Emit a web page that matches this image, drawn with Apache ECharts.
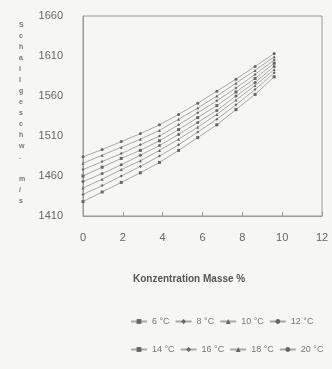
<!DOCTYPE html>
<html>
<head>
<meta charset="utf-8">
<script src="https://cdn.jsdelivr.net/npm/echarts@6/dist/echarts.min.js"></script>
<style>
  html, body { margin: 0; padding: 0; background: #f6f6f4; }
  #chart { width: 332px; height: 369px; }
</style>
</head>
<body>
<div id="chart"></div>
<script>
// concentration (mass %) for each measured column
const conc = [0, 0.96, 1.92, 2.88, 3.84, 4.8, 5.76, 6.72, 7.68, 8.64, 9.6];

// speed of sound (m/s) per temperature
const t6  = [1428, 1440, 1452, 1464, 1477, 1492, 1508, 1524, 1543, 1562, 1584];
const t8  = [1437, 1448, 1460, 1472, 1485, 1499, 1515, 1531, 1549, 1568, 1589];
const t10 = [1445, 1456, 1468, 1479, 1492, 1506, 1521, 1537, 1555, 1573, 1593];
const t12 = [1453, 1463, 1474, 1486, 1498, 1512, 1527, 1542, 1560, 1577, 1597];
const t14 = [1460, 1471, 1482, 1492, 1504, 1518, 1533, 1548, 1565, 1582, 1601];
const t16 = [1468, 1478, 1488, 1499, 1510, 1524, 1539, 1554, 1570, 1587, 1605];
const t18 = [1476, 1486, 1496, 1506, 1517, 1531, 1545, 1560, 1576, 1592, 1609];
const t20 = [1484, 1493, 1503, 1513, 1524, 1537, 1551, 1566, 1581, 1597, 1613];

const seriesNames = ['6 °C', '8 °C', '10 °C', '12 °C', '14 °C', '16 °C', '18 °C', '20 °C'];
const seriesValues = [t6, t8, t10, t12, t14, t16, t18, t20];
const symbols = ['rect', 'diamond', 'triangle', 'circle', 'rect', 'diamond', 'triangle', 'circle'];

const yLabelName = 'Schallgeschw. m/s';

const chart = echarts.init(document.getElementById('chart'));

const series = seriesNames.map((name, i) => ({
  name: name,
  type: 'line',
  data: conc.map((c, j) => [c, seriesValues[i][j]]),
  symbol: symbols[i],
  symbolSize: 3,
  lineStyle: { color: '#a8a8a8', width: 1 },
  itemStyle: { color: '#666' },
  animation: false
}));

const legendBase = {
  left: 130,
  itemWidth: 16,
  itemHeight: 6,
  itemGap: 5,
  textStyle: { color: '#777', fontSize: 9, fontFamily: 'Liberation Sans' },
  padding: 0
};

const option = {
  backgroundColor: '#f6f6f4',
  animation: false,
  grid: {
    left: 83,
    right: 10,
    top: 16,
    bottom: 153,
    show: true,
    borderColor: '#9a9a9a',
    borderWidth: 1
  },
  xAxis: {
    type: 'value',
    min: 0,
    max: 12,
    interval: 2,
    axisLine: { lineStyle: { color: '#9a9a9a' } },
    axisTick: { inside: true, length: 4, lineStyle: { color: '#9a9a9a' } },
    splitLine: { show: false },
    axisLabel: { color: '#666', fontSize: 11, margin: 16, fontFamily: 'Liberation Sans' }
  },
  yAxis: {
    type: 'value',
    min: 1410,
    max: 1660,
    interval: 50,
    axisLine: { show: true, lineStyle: { color: '#9a9a9a' } },
    axisTick: { show: false },
    splitLine: { show: false },
    axisLabel: {
      color: '#666',
      fontSize: 11,
      margin: 20,
      fontFamily: 'Liberation Sans',
      formatter: v => String(v)
    }
  },
  legend: [
    Object.assign({}, legendBase, { top: 317, data: seriesNames.slice(0, 4) }),
    Object.assign({}, legendBase, { top: 345, data: seriesNames.slice(4) })
  ],
  graphic: [
    {
      type: 'text',
      left: 19,
      top: 20,
      style: {
        text: yLabelName.split('').join('\n'),
        fill: '#777',
        font: 'bold 7px "Liberation Sans"',
        lineHeight: 11,
        align: 'center'
      }
    },
    {
      type: 'text',
      left: 133,
      top: 274,
      style: {
        text: 'Konzentration Masse %',
        fill: '#555',
        font: 'bold 10px "Liberation Sans"'
      }
    }
  ],
  series: series
};

chart.setOption(option);
</script>
</body>
</html>
